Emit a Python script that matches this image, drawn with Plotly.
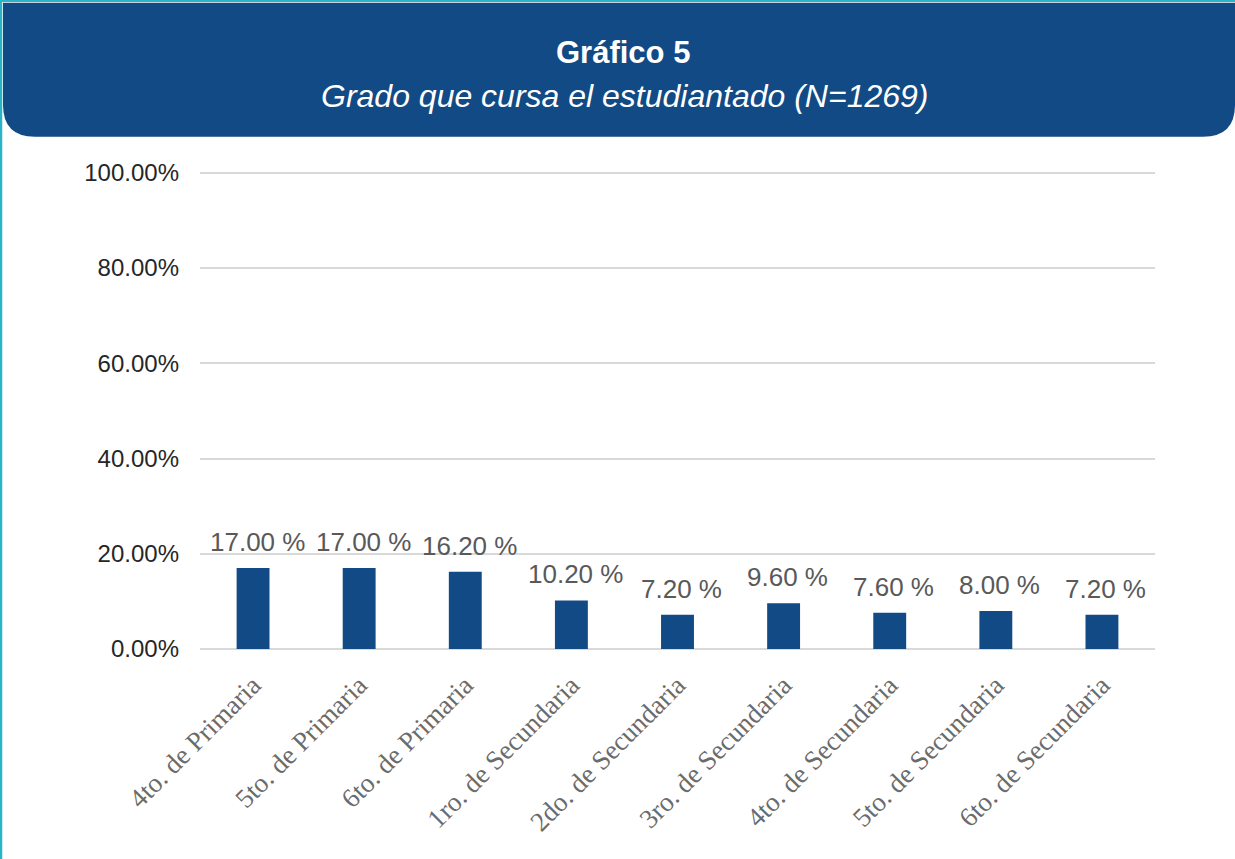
import plotly.graph_objects as go

categories = ["4to. de Primaria", "5to. de Primaria", "6to. de Primaria",
              "1ro. de Secundaria", "2do. de Secundaria", "3ro. de Secundaria",
              "4to. de Secundaria", "5to. de Secundaria", "6to. de Secundaria"]
values = [0.170, 0.170, 0.162, 0.102, 0.072, 0.096, 0.076, 0.080, 0.072]
value_labels = ["17.00 %", "17.00 %", "16.20 %", "10.20 %", "7.20 %",
                "9.60 %", "7.60 %", "8.00 %", "7.20 %"]
y_ticks = [0, 0.2, 0.4, 0.6, 0.8, 1.0]

title_main = "Gráfico 5"
title_sub = "Grado que cursa el estudiantado (N=1269)"

W, H = 1235, 859
YMAX = 1.01
ML, MR, MB = 200, 80, 210
MT = H - MB - 476 * YMAX
BLUE = "#114A84"
TEAL = "#2AB4C6"

def px(x):
    return (x - ML) / (W - ML - MR)

def py(y):
    return (H - MB - y) / (H - MT - MB)

fig = go.Figure()
fig.add_trace(go.Bar(
    x=categories, y=values, marker=dict(color=BLUE, line=dict(width=0)),
    hoverinfo="skip", showlegend=False,
))

for c, v, t in zip(categories, values, value_labels):
    fig.add_annotation(x=c, y=v, text=t, showarrow=False, yanchor="bottom",
                       yshift=9, xshift=4,
                       font=dict(family="Liberation Sans, Arial", size=26, color="#595959"))

# header band with rounded bottom corners
x0, x1 = px(3), px(1235)
y0, y1 = py(3), py(137)
r = 32
path = (f"M {x0},{y0} L {x1},{y0} L {x1},{py(137 - r)} "
        f"Q {x1},{y1} {px(1235 - r)},{y1} L {px(3 + r)},{y1} "
        f"Q {x0},{y1} {x0},{py(137 - r)} Z")
fig.add_shape(type="path", path=path, xref="paper", yref="paper",
              fillcolor=BLUE, line=dict(width=0), layer="above")
# teal border lines
fig.add_shape(type="line", xref="paper", yref="paper", x0=px(0), x1=px(1235),
              y0=py(1), y1=py(1), line=dict(color=TEAL, width=2.5), layer="above")
fig.add_shape(type="line", xref="paper", yref="paper", x0=px(1), x1=px(1),
              y0=py(0), y1=py(859), line=dict(color=TEAL, width=2.5), layer="above")

fig.add_annotation(xref="paper", yref="paper", x=px(623), y=py(53),
                   yanchor="middle", xanchor="center",
                   text=f"<b>{title_main}</b>", showarrow=False,
                   font=dict(family="Liberation Sans, Arial", size=31, color="white"))
fig.add_annotation(xref="paper", yref="paper", x=px(625), y=py(96),
                   yanchor="middle", xanchor="center",
                   text=f"<i>{title_sub}</i>", showarrow=False,
                   font=dict(family="Liberation Sans, Arial", size=32, color="white"))

fig.update_layout(
    width=W, height=H,
    margin=dict(l=ML, r=MR, t=MT, b=MB, autoexpand=False),
    paper_bgcolor="white", plot_bgcolor="white",
    bargap=0.69,
    xaxis=dict(tickangle=-45, showgrid=False, showline=False, ticks="",
               tickfont=dict(family="Liberation Serif, Times New Roman", size=27, color="#6b6b6b"),
               ticklabelstandoff=14, fixedrange=True),
    yaxis=dict(range=[0, YMAX], tickvals=y_ticks, tickformat=".2%",
               showgrid=True, gridcolor="#D9D9D9", gridwidth=2,
               zeroline=True, zerolinecolor="#D9D9D9", zerolinewidth=2,
               showline=False, ticks="",
               tickfont=dict(family="Liberation Sans, Arial", size=24, color="#262626"),
               ticklabelstandoff=20, fixedrange=True),
)

fig.write_html("out.html", config={"displayModeBar": False},
               post_script="document.body.style.margin='0';document.body.style.overflow='hidden';")
